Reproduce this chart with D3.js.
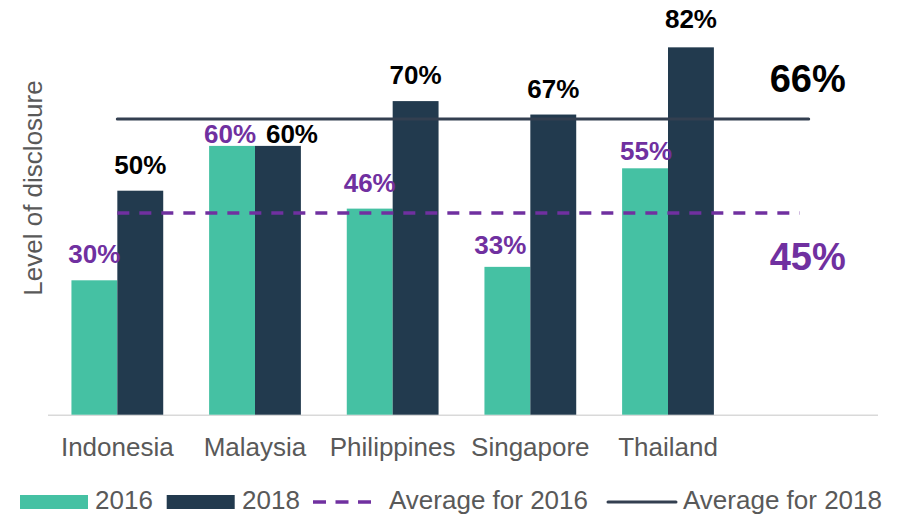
<!DOCTYPE html>
<html>
<head>
<meta charset="utf-8">
<script src="https://cdn.jsdelivr.net/npm/d3@7/dist/d3.min.js"></script>
<style>
  body { margin: 0; background: #fff; }
  svg { display: block; font-family: "Liberation Sans", Arial, sans-serif; }
</style>
</head>
<body>
<svg id="chart" width="907" height="515"></svg>
<script>
// data
const categories = ['Indonesia', 'Malaysia', 'Philippines', 'Singapore', 'Thailand'];
const years = ['2016', '2018'];
const values2016 = [30, 60, 46, 33, 55];
const values2018 = [50, 60, 70, 67, 82];
const average2016 = 45;
const average2018 = 66;

// label nudges [dx, dy] where the original labels were moved by hand
const nudge2016 = [[0, 0], [-2, 14], [0, 0], [-7, 4], [1, 9]];
const nudge2018 = [[0, 0], [14, 14], [0, 0], [0, 0], [0, -2]];

const colors = { '2016': '#45c1a3', '2018': '#223a4e' };
const purple = '#7030a0';
const avgLineColor = '#333f50';
const textGray = '#595959';

const svg = d3.select('#chart');

// last slot is empty, it holds the average labels
const slots = categories.concat(['avg']);
const x0 = d3.scaleBand().domain(slots).range([48.5, 874.5]);
const x1 = d3.scaleBand().domain(years).range([0, x0.bandwidth()]).paddingOuter(0.5);
const y = d3.scaleLinear().domain([0, 100]).range([414.7, -33.3]);

// x axis line
svg.append('line')
    .attr('x1', 48).attr('x2', 878)
    .attr('y1', y(0) + 0.5).attr('y2', y(0) + 0.5)
    .attr('stroke', '#d9d9d9').attr('stroke-width', 1.5);

// bars
const groups = svg.selectAll('g.cat')
    .data(categories)
    .join('g')
    .attr('class', 'cat')
    .attr('transform', d => `translate(${x0(d)},0)`);

groups.append('rect')
    .attr('x', x1('2016'))
    .attr('width', x1.bandwidth())
    .attr('y', (d, i) => y(values2016[i]))
    .attr('height', (d, i) => y(0) - y(values2016[i]))
    .attr('fill', colors['2016']);

groups.append('rect')
    .attr('x', x1('2018'))
    .attr('width', x1.bandwidth())
    .attr('y', (d, i) => y(values2018[i]))
    .attr('height', (d, i) => y(0) - y(values2018[i]))
    .attr('fill', colors['2018']);

// bar labels
groups.append('text')
    .attr('x', (d, i) => x1('2016') + x1.bandwidth() / 2 + nudge2016[i][0])
    .attr('y', (d, i) => y(values2016[i]) - 17 + nudge2016[i][1])
    .attr('text-anchor', 'middle')
    .attr('font-size', 26).attr('font-weight', 'bold')
    .attr('fill', purple)
    .text((d, i) => values2016[i] + '%');

groups.append('text')
    .attr('x', (d, i) => x1('2018') + x1.bandwidth() / 2 + nudge2018[i][0])
    .attr('y', (d, i) => y(values2018[i]) - 17 + nudge2018[i][1])
    .attr('text-anchor', 'middle')
    .attr('font-size', 26).attr('font-weight', 'bold')
    .attr('fill', '#000')
    .text((d, i) => values2018[i] + '%');

// category labels
svg.selectAll('text.cat-label')
    .data(categories)
    .join('text')
    .attr('class', 'cat-label')
    .attr('x', d => x0(d) + x0.bandwidth() / 2)
    .attr('y', 456)
    .attr('text-anchor', 'middle')
    .attr('font-size', 26)
    .attr('fill', textGray)
    .text(d => d);

// average lines
const lineStart = x0(categories[0]) + x0.bandwidth() / 2;
const lineEnd = x0('avg') + x0.bandwidth() / 2;

svg.append('line')
    .attr('x1', lineStart).attr('x2', lineEnd - 6)
    .attr('y1', y(average2016)).attr('y2', y(average2016))
    .attr('stroke', purple).attr('stroke-width', 3.5)
    .attr('stroke-dasharray', '12,10');

svg.append('line')
    .attr('x1', lineStart).attr('x2', lineEnd + 3)
    .attr('y1', y(average2018)).attr('y2', y(average2018))
    .attr('stroke', avgLineColor).attr('stroke-width', 3)
    .attr('stroke-linecap', 'round');

svg.append('text')
    .attr('x', lineEnd + 2)
    .attr('y', y(average2018) - 27)
    .attr('text-anchor', 'middle')
    .attr('font-size', 38).attr('font-weight', 'bold')
    .attr('fill', '#000')
    .text(average2018 + '%');

svg.append('text')
    .attr('x', lineEnd + 2)
    .attr('y', y(average2016) + 57)
    .attr('text-anchor', 'middle')
    .attr('font-size', 38).attr('font-weight', 'bold')
    .attr('fill', purple)
    .text(average2016 + '%');

// y axis title
svg.append('text')
    .attr('transform', 'translate(42,188) rotate(-90)')
    .attr('text-anchor', 'middle')
    .attr('font-size', 26)
    .attr('fill', textGray)
    .text('Level of disclosure');

// legend
const legend = svg.append('g').attr('class', 'legend');
const legendY = 509.3;

legend.append('rect').attr('x', 20).attr('y', 495).attr('width', 68).attr('height', 14).attr('fill', colors['2016']);
legend.append('text').attr('x', 95).attr('y', legendY).attr('font-size', 26).attr('fill', textGray).text('2016');

legend.append('rect').attr('x', 166.7).attr('y', 495).attr('width', 68).attr('height', 14).attr('fill', colors['2018']);
legend.append('text').attr('x', 242).attr('y', legendY).attr('font-size', 26).attr('fill', textGray).text('2018');

legend.append('line')
    .attr('x1', 313).attr('x2', 371).attr('y1', 502).attr('y2', 502)
    .attr('stroke', purple).attr('stroke-width', 3.5).attr('stroke-dasharray', '13,9.5');
legend.append('text').attr('x', 389).attr('y', legendY).attr('font-size', 26).attr('fill', textGray).text('Average for 2016');

legend.append('line')
    .attr('x1', 608).attr('x2', 676).attr('y1', 502).attr('y2', 502)
    .attr('stroke', avgLineColor).attr('stroke-width', 3).attr('stroke-linecap', 'round');
legend.append('text').attr('x', 683).attr('y', legendY).attr('font-size', 26).attr('fill', textGray).text('Average for 2018');
</script>
</body>
</html>
